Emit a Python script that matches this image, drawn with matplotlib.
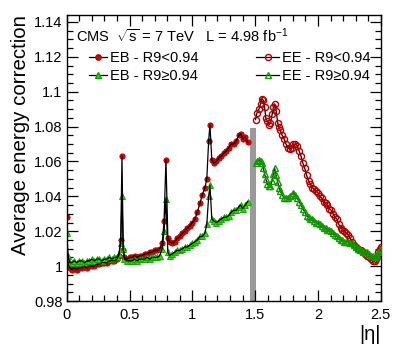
import numpy as np
import matplotlib
matplotlib.use("Agg")
import matplotlib.pyplot as plt
from matplotlib.lines import Line2D
from matplotlib.ticker import MultipleLocator, FuncFormatter

plt.rcParams['font.family'] = ['Liberation Sans', 'DejaVu Sans']
plt.rcParams['mathtext.fontset'] = 'custom'
plt.rcParams['mathtext.rm'] = 'Liberation Sans'
plt.rcParams['mathtext.it'] = 'Liberation Sans:italic'

# barrel (EB) bins in |eta|
eb_eta = [0.000, 0.010, 0.025, 0.04, 0.06, 0.08, 0.10, 0.12, 0.14, 0.16, 0.18,
          0.20, 0.22, 0.24, 0.26, 0.28, 0.30, 0.32, 0.34, 0.36, 0.38, 0.40,
          0.415, 0.43, 0.44, 0.45, 0.46, 0.48, 0.50, 0.52, 0.54, 0.56, 0.58,
          0.60, 0.62, 0.64, 0.66, 0.68, 0.70, 0.72, 0.74, 0.76, 0.775, 0.79,
          0.805, 0.82, 0.84, 0.86, 0.88, 0.90, 0.92, 0.94, 0.96, 0.98, 1.00,
          1.02, 1.04, 1.06, 1.08, 1.10, 1.115, 1.13, 1.14, 1.155, 1.17, 1.19,
          1.21, 1.23, 1.25, 1.27, 1.29, 1.31, 1.33, 1.35, 1.37, 1.385, 1.40,
          1.42, 1.44]
eb_low_r9 = [1.028, 1.001, 0.999, 0.998, 0.999, 0.998, 0.999, 0.999, 1.000, 0.999, 1.000,
             1.000, 1.000, 1.001, 1.001, 1.002, 1.002, 1.002, 1.003, 1.003, 1.003, 1.004,
             1.006, 1.015, 1.063, 1.009, 1.005, 1.004, 1.005, 1.005, 1.006, 1.005, 1.006,
             1.006, 1.007, 1.007, 1.008, 1.008, 1.009, 1.009, 1.010, 1.013, 1.026, 1.061,
             1.016, 1.014, 1.013, 1.014, 1.016, 1.017, 1.019, 1.020, 1.022, 1.023, 1.025,
             1.027, 1.031, 1.036, 1.041, 1.045, 1.050, 1.072, 1.081, 1.061, 1.059, 1.060,
             1.062, 1.063, 1.065, 1.066, 1.068, 1.070, 1.070, 1.072, 1.075, 1.076, 1.073,
             1.074, 1.071]
eb_high_r9 = [1.019, 1.006, 1.002, 1.002, 1.003, 1.002, 1.003, 1.003, 1.002, 1.003, 1.003,
              1.004, 1.003, 1.004, 1.004, 1.003, 1.004, 1.004, 1.005, 1.004, 1.005, 1.005,
              1.007, 1.013, 1.040, 1.010, 1.004, 1.003, 1.003, 1.003, 1.004, 1.003, 1.004,
              1.004, 1.004, 1.005, 1.004, 1.005, 1.005, 1.005, 1.006, 1.010, 1.020, 1.0385,
              1.008, 1.006, 1.007, 1.008, 1.009, 1.009, 1.010, 1.011, 1.011, 1.012, 1.013,
              1.014, 1.015, 1.017, 1.017, 1.019, 1.024, 1.040, 1.0465, 1.027, 1.026, 1.025,
              1.026, 1.027, 1.028, 1.028, 1.029, 1.031, 1.032, 1.032, 1.034, 1.035, 1.033,
              1.035, 1.037]

# endcap (EE) bins in |eta|
ee_eta = [1.503, 1.515, 1.53, 1.543, 1.555, 1.565, 1.575, 1.585, 1.597, 1.61,
          1.622, 1.635, 1.645, 1.655, 1.667, 1.68, 1.69, 1.70, 1.715, 1.73,
          1.745, 1.76, 1.775, 1.79, 1.805, 1.82, 1.835, 1.85, 1.865, 1.88,
          1.895, 1.91, 1.925, 1.94, 1.955, 1.97, 1.985, 2.00, 2.015, 2.03,
          2.045, 2.06, 2.075, 2.09, 2.105, 2.12, 2.135, 2.15, 2.165, 2.18,
          2.195, 2.21, 2.225, 2.24, 2.255, 2.27, 2.285, 2.30, 2.315, 2.33,
          2.345, 2.36, 2.375, 2.39, 2.405, 2.42, 2.435, 2.45, 2.46, 2.47,
          2.48, 2.49, 2.50]
ee_low_r9 = [1.084, 1.088, 1.090, 1.093, 1.096, 1.095, 1.091, 1.085, 1.083, 1.081,
             1.082, 1.087, 1.091, 1.093, 1.089, 1.082, 1.080, 1.078, 1.075, 1.073,
             1.070, 1.068, 1.067, 1.068, 1.070, 1.070, 1.069, 1.066, 1.063, 1.059,
             1.056, 1.052, 1.049, 1.047, 1.045, 1.044, 1.043, 1.042, 1.040, 1.039,
             1.037, 1.036, 1.035, 1.033, 1.032, 1.030, 1.028, 1.027, 1.024, 1.022,
             1.021, 1.020, 1.019, 1.018, 1.016, 1.014, 1.012, 1.011, 1.010, 1.009,
             1.009, 1.008, 1.007, 1.006, 1.005, 1.004, 1.003, 1.003, 1.004, 1.005,
             1.008, 1.010, 1.011]
ee_high_r9 = [1.059, 1.060, 1.061, 1.060, 1.059, 1.056, 1.053, 1.050, 1.047, 1.046,
              1.046, 1.049, 1.053, 1.056, 1.052, 1.048, 1.045, 1.043, 1.041, 1.039,
              1.039, 1.039, 1.040, 1.041, 1.042, 1.041, 1.039, 1.037, 1.035, 1.033,
              1.031, 1.029, 1.028, 1.027, 1.027, 1.026, 1.025, 1.025, 1.024, 1.023,
              1.022, 1.022, 1.021, 1.021, 1.020, 1.019, 1.018, 1.017, 1.016, 1.015,
              1.015, 1.014, 1.014, 1.014, 1.013, 1.013, 1.012, 1.011, 1.010, 1.010,
              1.009, 1.008, 1.008, 1.008, 1.007, 1.006, 1.006, 1.005, 1.006, 1.006,
              1.008, 1.009, 1.010]

gap = (1.457, 1.503, 1.079)

red = '#e00000'
dred = '#b00000'
green = '#22dd00'
dgreen = '#119900'

fig = plt.figure(figsize=(3.94, 3.48), dpi=100)
ax = fig.add_axes([0.1693, 0.135, 0.7972, 0.822])

# crack between barrel and endcap
ax.fill_between([gap[0], gap[1]], 0.98, gap[2], color='#999999', lw=0, zorder=1)

ms = 3.8
ax.plot(eb_eta, eb_low_r9, ls='none', marker='o', ms=ms, mfc=red, mec=dred, mew=0.6, zorder=2)
ax.plot(eb_eta, eb_high_r9, ls='none', marker='^', ms=ms, mfc=green, mec=dgreen, mew=0.6, zorder=2)
ax.plot(eb_eta, eb_low_r9, color='k', lw=0.9, zorder=3)
ax.plot(eb_eta, eb_high_r9, color='k', lw=0.9, zorder=3)

ax.plot(ee_eta, ee_low_r9, color='k', lw=0.9, marker='o', ms=ms + 0.6, mfc='none',
        mec=dred, mew=1.0, zorder=3)
ax.plot(ee_eta, ee_high_r9, color='k', lw=0.9, marker='^', ms=ms + 0.6, mfc='none',
        mec=dgreen, mew=1.0, zorder=3)

ax.set_xlim(0, 2.5)
ax.set_ylim(0.98, 1.144)
ax.xaxis.set_major_locator(MultipleLocator(0.5))
ax.xaxis.set_minor_locator(MultipleLocator(0.1))
ax.yaxis.set_major_locator(MultipleLocator(0.02))
ax.yaxis.set_minor_locator(MultipleLocator(0.005))
fmt = FuncFormatter(lambda v, p: '%g' % round(v, 4))
ax.xaxis.set_major_formatter(fmt)
ax.yaxis.set_major_formatter(fmt)
ax.tick_params(which='both', direction='in', top=True, right=True, labelsize=10.5, width=0.9)
ax.tick_params(which='major', length=8)
ax.tick_params(which='minor', length=4)
ax.tick_params(axis='x', pad=5)
ax.tick_params(axis='y', pad=3)
for s in ax.spines.values():
    s.set_linewidth(1.0)

ax.set_ylabel('Average energy correction', fontsize=14.8, loc='top', labelpad=3)
ax.set_xlabel('|\u03b7|', fontsize=14.5, loc='right', labelpad=2)

ax.text(0.03, 0.925, r'CMS  $\sqrt{\mathrm{s}}$ = 7 TeV   L = 4.98 fb$^{-1}$', transform=ax.transAxes,
        fontsize=10.5, va='center', ha='left')

eb_handles = [
    Line2D([], [], color='k', lw=0.9, marker='o', ms=ms, mfc=red, mec=dred),
    Line2D([], [], color='k', lw=0.9, marker='^', ms=ms, mfc=green, mec=dgreen),
]
ee_handles = [
    Line2D([], [], color='k', lw=0.9, marker='o', ms=ms + 0.6, mfc='none', mec=dred),
    Line2D([], [], color='k', lw=0.9, marker='^', ms=ms + 0.6, mfc='none', mec=dgreen),
]
leg1 = ax.legend(eb_handles, ['EB - R9<0.94', 'EB - R9\u22650.94'], loc='upper left',
                 bbox_to_anchor=(0.04, 0.91), frameon=False, fontsize=10.5,
                 handlelength=1.2, handletextpad=0.2, labelspacing=0.3, borderaxespad=0.3)
ax.add_artist(leg1)
ax.legend(ee_handles, ['EE - R9<0.94', 'EE - R9\u22650.94'], loc='upper left',
          bbox_to_anchor=(0.57, 0.91), frameon=False, fontsize=10.5,
          handlelength=1.6, handletextpad=0.2, labelspacing=0.3, borderaxespad=0.3)

fig.savefig('out.png', dpi=100)
